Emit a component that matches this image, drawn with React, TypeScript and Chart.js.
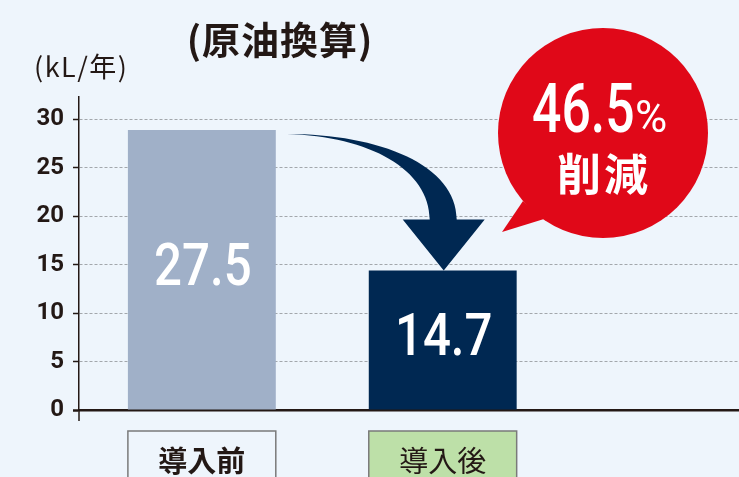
import React, { useEffect, useRef } from 'react';
import { Chart, registerables } from 'chart.js';

Chart.register(...registerables);

// ---- data ----
const categories = ['導入前', '導入後'];
const barValues = [28.9, 14.4]; // bar heights as drawn (kL/年)
const valueLabels = ['27.5', '14.7'];
const yTicks = [0, 5, 10, 15, 20, 25, 30];
const reductionPct = '46.5';
const reductionUnit = '%';
const reductionText = '削減';
const titleText = '(原油換算)';
const unitText = '(kL/年)';

// ---- styles ----
const BG = '#eef5fc';
const INK = '#231815';
const barColors = ['#a0b0c8', '#002852'];
const boxFills = ['#eef5fc', '#bde0a8'];
const boxWeights = ['700', '400'];
const RED = '#e00818';
const NAVY = '#002852';
const CJK = '"Noto Sans CJK JP", "Noto Sans CJK SC", sans-serif';
const NUM = 'Roboto, "Noto Sans", sans-serif';

function drawScaledText(
  ctx: CanvasRenderingContext2D,
  text: string,
  cx: number,
  baseline: number,
  font: string,
  sx: number,
  align: CanvasTextAlign = 'center',
  spacing = 0
) {
  ctx.save();
  ctx.font = font;
  ctx.textAlign = align;
  ctx.textBaseline = 'alphabetic';
  (ctx as any).letterSpacing = `${spacing}px`;
  ctx.translate(cx, baseline);
  ctx.scale(sx, 1);
  ctx.fillText(text, 0, 0);
  ctx.restore();
}

const decor = {
  id: 'decor',
  beforeDraw(chart: any) {
    const ctx = chart.ctx;
    ctx.save();
    ctx.fillStyle = BG;
    ctx.fillRect(0, 0, chart.width, chart.height);
    ctx.restore();
  },
  afterDraw(chart: any) {
    const ctx: CanvasRenderingContext2D = chart.ctx;
    const area = chart.chartArea;
    const meta = chart.getDatasetMeta(0);
    const bars = meta.data as any[];

    // y-axis extension below the baseline
    ctx.save();
    ctx.strokeStyle = INK;
    ctx.lineWidth = 1.5;
    ctx.beginPath();
    ctx.moveTo(area.left, area.bottom);
    ctx.lineTo(area.left, area.bottom + 11);
    ctx.stroke();
    ctx.restore();

    // value labels inside bars
    ctx.save();
    ctx.fillStyle = '#ffffff';
    bars.forEach((el, i) => {
      const mid = (el.y + el.base) / 2 - 6.5;
      drawScaledText(ctx, valueLabels[i], el.x + 1, mid + 21.3, `500 60px ${NUM}`, 0.82);
    });
    ctx.restore();

    // curved arrow from bar 1 to bar 2
    if (bars.length > 1) {
      const b1 = bars[0];
      const b2 = bars[1];
      const sx = b1.x + b1.width / 2 + 11;
      const sy = b1.y + 4;
      const tx = b2.x + 1;
      const ty = b2.y;
      const hy = ty - 51;
      ctx.save();
      ctx.fillStyle = NAVY;
      ctx.beginPath();
      ctx.moveTo(sx, sy);
      ctx.bezierCurveTo(sx + 93, sy, tx + 13, sy + 31, tx + 13, hy);
      ctx.lineTo(tx + 41, hy);
      ctx.lineTo(tx, ty);
      ctx.lineTo(tx - 41, hy);
      ctx.lineTo(tx - 14, hy);
      ctx.bezierCurveTo(tx - 14, sy + 36, sx + 83, sy + 2, sx, sy);
      ctx.closePath();
      ctx.fill();
      ctx.restore();
    }

    // red speech bubble
    const cx = area.right - 136;
    const cy = 133;
    const r = 105;
    ctx.save();
    ctx.fillStyle = RED;
    ctx.beginPath();
    ctx.arc(cx, cy, r, 0, Math.PI * 2);
    ctx.fill();
    ctx.beginPath();
    ctx.moveTo(cx - 80, cy + 68);
    ctx.lineTo(cx - 101, cy + 99);
    ctx.lineTo(cx - 59, cy + 86);
    ctx.closePath();
    ctx.fill();
    ctx.fillStyle = '#ffffff';
    drawScaledText(ctx, reductionPct, cx - 71, cy - 1, `500 69px ${NUM}`, 0.75, 'left');
    drawScaledText(ctx, reductionUnit, cx + 32, cy - 1, `400 44px ${NUM}`, 1, 'left');
    drawScaledText(ctx, reductionText, cx + 1, cy + 58, `700 44px ${CJK}`, 1, 'center', 3);
    ctx.restore();

    // title and unit
    ctx.save();
    ctx.fillStyle = INK;
    drawScaledText(ctx, titleText, 280, 54, `700 38px ${CJK}`, 1, 'center', 1);
    drawScaledText(ctx, unitText, 34, 77, `400 27px ${CJK}`, 1, 'left', 1.5);
    ctx.restore();

    // category label boxes
    bars.forEach((el, i) => {
      const left = el.x - el.width / 2;
      const top = area.bottom + 21;
      ctx.save();
      ctx.fillStyle = boxFills[i];
      ctx.fillRect(left, top, el.width, 80);
      ctx.strokeStyle = '#7a7a7a';
      ctx.lineWidth = 1.5;
      ctx.strokeRect(left, top, el.width, 80);
      ctx.fillStyle = INK;
      drawScaledText(ctx, categories[i], el.x, top + 41, `${boxWeights[i]} 29px ${CJK}`, 1, 'center');
      ctx.restore();
    });
  },
};

export default function App() {
  const canvasRef = useRef<HTMLCanvasElement | null>(null);

  useEffect(() => {
    document.body.style.margin = '0';
    document.body.style.background = BG;
    const canvas = canvasRef.current;
    if (!canvas) return;
    const chart = new Chart(canvas, {
      type: 'bar',
      data: {
        datasets: [
          {
            data: barValues.map((v, i) => ({ x: i, y: v })),
            backgroundColor: barColors,
            borderWidth: 0,
            barPercentage: 0.614,
            categoryPercentage: 1,
          },
        ],
      },
      options: {
        animation: false,
        responsive: false,
        devicePixelRatio: 1,
        layout: { padding: { top: 97, bottom: 67, left: 0, right: 0 } },
        plugins: {
          legend: { display: false },
          tooltip: { enabled: false },
          title: { display: false },
        },
        scales: {
          x: {
            type: 'linear',
            min: -0.51,
            max: 2.23,
            offset: false,
            z: 1,
            afterBuildTicks: (s: any) => {
              s.ticks = categories.map((_, i) => ({ value: i }));
            },
            afterFit: (s: any) => {
              s.height = 0;
            },
            grid: { display: false, drawTicks: false },
            ticks: { display: false },
            border: { display: true, color: INK, width: 2.5 },
          },
          y: {
            min: 0,
            max: 32.3,
            afterBuildTicks: (s: any) => {
              s.ticks = yTicks.map((v) => ({ value: v }));
            },
            afterFit: (s: any) => {
              s.width = 79;
            },
            grid: {
              color: '#a3a7ac',
              lineWidth: 1,
              tickLength: 6,
              tickColor: INK,
              tickWidth: (c: any) => (c.tick && c.tick.value === 0 ? 2.5 : 1.5),
              tickBorderDash: [],
            },
            border: { display: true, color: INK, width: 1.5, dash: [3, 2] },
            ticks: {
              padding: 9,
              color: INK,
              font: { family: NUM, size: 24, weight: '700' },
            },
          },
        },
      } as any,
      plugins: [decor],
    });
    return () => chart.destroy();
  }, []);

  return (
    <div style={{ position: 'fixed', left: 0, top: 0, width: 739, height: 477, background: BG }}>
      <canvas ref={canvasRef} width={739} height={477} style={{ display: 'block' }} />
    </div>
  );
}
